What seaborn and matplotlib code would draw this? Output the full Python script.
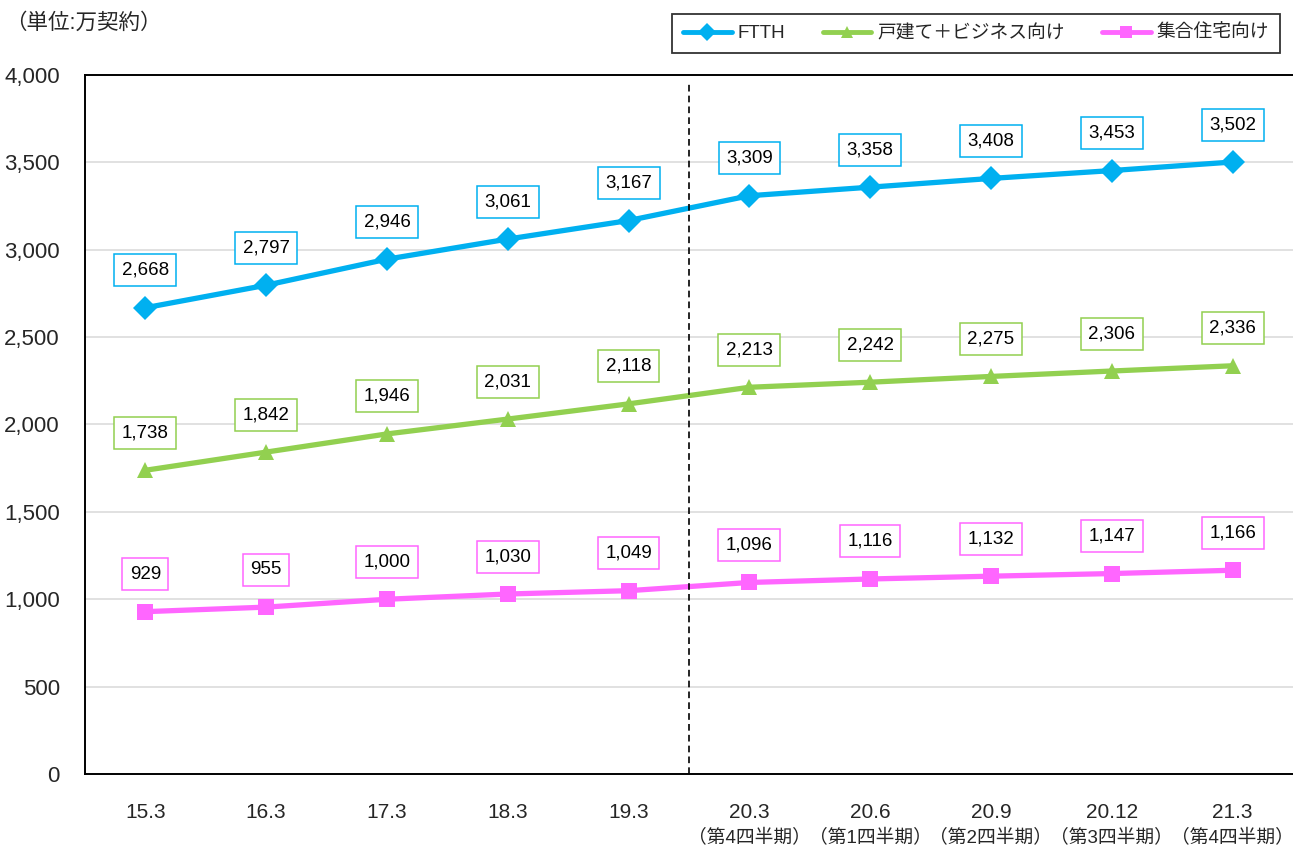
import matplotlib.pyplot as plt
import matplotlib.transforms as mtransforms
import pandas as pd
import seaborn as sns
from matplotlib.ticker import FuncFormatter, MultipleLocator

# data (万契約)
periods = ['15.3', '16.3', '17.3', '18.3', '19.3', '20.3', '20.6', '20.9', '20.12', '21.3']
quarters = ['', '', '', '', '', '（第4四半期）', '（第1四半期）', '（第2四半期）', '（第3四半期）', '（第4四半期）']
ftth = [2668, 2797, 2946, 3061, 3167, 3309, 3358, 3408, 3453, 3502]
detached = [1738, 1842, 1946, 2031, 2118, 2213, 2242, 2275, 2306, 2336]
apartment = [929, 955, 1000, 1030, 1049, 1096, 1116, 1132, 1147, 1166]

series_names = ['FTTH', '戸建て＋ビジネス向け', '集合住宅向け']
colors = {'FTTH': '#00B0F0', '戸建て＋ビジネス向け': '#92D050', '集合住宅向け': '#FF66FF'}
markers = {'FTTH': 'D', '戸建て＋ビジネス向け': '^', '集合住宅向け': 's'}

df = pd.DataFrame({
    'pos': list(range(len(periods))) * 3,
    'value': ftth + detached + apartment,
    'series': [s for s in series_names for _ in periods],
})

sns.set_style('white')
plt.rcParams['font.family'] = ['Liberation Sans Narrow', 'Liberation Sans', 'Noto Sans CJK JP']

fig = plt.figure(figsize=(12.93, 8.5), dpi=100)
ax = fig.add_axes([0.0657, 0.0894, 0.9343, 0.8224])

sns.lineplot(data=df, x='pos', y='value', hue='series', style='series',
             hue_order=series_names, style_order=series_names,
             palette=colors, markers=markers, dashes=False,
             linewidth=3.8, markersize=12, markeredgewidth=0, ax=ax)

# data labels
for name, vals in zip(series_names, [ftth, detached, apartment]):
    for i, v in enumerate(vals):
        ax.annotate(f'{v:,}', (i, v), xytext=(0, 27), textcoords='offset points',
                    ha='center', va='center', fontsize=13.5, color='black',
                    bbox=dict(boxstyle='square,pad=0.4', fc='white',
                              ec=colors[name], lw=1.1))

ax.set_xlim(-0.5, len(periods) - 0.5)
ax.set_ylim(0, 4000)
ax.yaxis.set_major_locator(MultipleLocator(500))
ax.yaxis.set_major_formatter(FuncFormatter(lambda v, p: f'{int(v):,}'))
ax.grid(axis='y', color='#D9D9D9', lw=1.1)
ax.set_axisbelow(True)

ax.set_xticks(range(len(periods)))
ax.set_xticklabels(periods)
ax.set_xticks([i + 0.5 for i in range(len(periods) - 1)], minor=True)
ax.tick_params(axis='x', which='major', length=0, pad=21, labelsize=15)
ax.tick_params(axis='x', which='minor', direction='in', length=7, width=1, color='black')
ax.tick_params(axis='y', length=0, pad=18, labelsize=16)
ax.set_xlabel('')
ax.set_ylabel('')

trans = mtransforms.blended_transform_factory(ax.transData, ax.transAxes)
for i, q in enumerate(quarters):
    if q:
        ax.annotate(q, (i, 0), xycoords=trans, xytext=(0, -46.5), textcoords='offset points',
                    ha='center', va='center', fontsize=13.5)

for side in ['top', 'left', 'bottom']:
    ax.spines[side].set_color('black')
    ax.spines[side].set_linewidth(1.4)
ax.spines['right'].set_visible(False)

# divider between fiscal years and quarters
ax.axvline(4.5, ymin=0, ymax=0.99, color='black', ls=(0, (4, 2.5)), lw=1.2)

fig.text(0.004, 0.972, '（単位:万契約）', fontsize=15.5, ha='left', va='center')

handles, labels = ax.get_legend_handles_labels()
ax.get_legend().remove()
leg = fig.legend(handles, labels, loc='upper right', bbox_to_anchor=(0.99, 0.984),
                 ncol=3, fontsize=13.5, frameon=True, fancybox=False, edgecolor='black',
                 handlelength=2.6, handletextpad=0.3, columnspacing=2.0,
                 markerscale=0.75, borderpad=0.6, borderaxespad=0)
leg.get_frame().set_linewidth(1.3)
for h in leg.legend_handles:
    h.set_linewidth(3.5)

fig.savefig('out.png', dpi=100)
